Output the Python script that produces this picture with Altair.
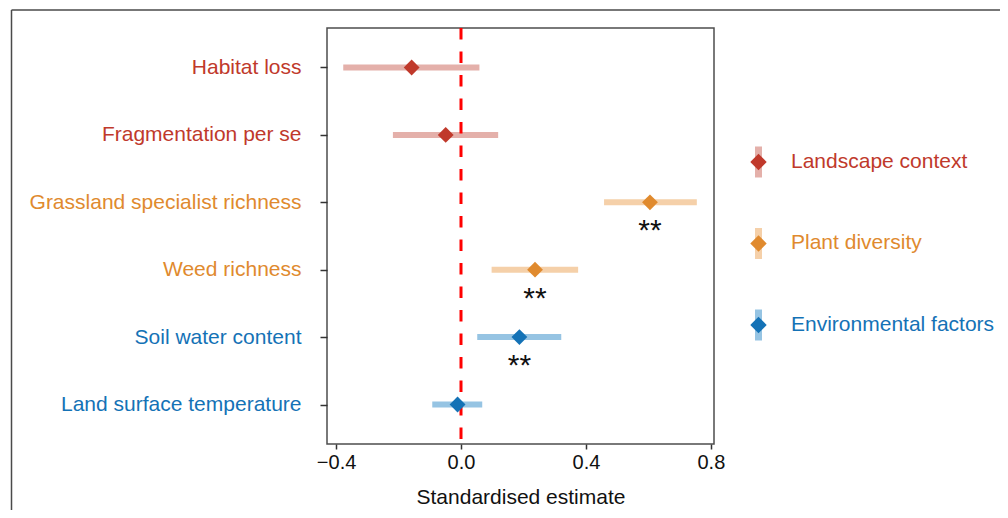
import altair as alt
import pandas as pd

labels = ["Habitat loss", "Fragmentation per se", "Grassland specialist richness",
          "Weed richness", "Soil water content", "Land surface temperature"]
groups = ["Landscape context", "Landscape context", "Plant diversity",
          "Plant diversity", "Environmental factors", "Environmental factors"]
estimate = [-0.158, -0.049, 0.605, 0.237, 0.187, -0.011]
lower = [-0.377, -0.218, 0.458, 0.098, 0.052, -0.092]
upper = [0.059, 0.119, 0.755, 0.375, 0.321, 0.068]
signif = ["", "", "**", "**", "**", ""]

group_order = ["Landscape context", "Plant diversity", "Environmental factors"]
dark_colors = ["#c0392b", "#e08a2e", "#1472b6"]
light_colors = ["#e4b0aa", "#f5d0a9", "#96c4e3"]

dark_map = dict(zip(group_order, dark_colors))
light_map = dict(zip(group_order, light_colors))

df = pd.DataFrame({
    "label": labels, "group": groups, "estimate": estimate,
    "lower": lower, "upper": upper, "signif": signif,
    "dark": [dark_map[g] for g in groups],
    "light": [light_map[g] for g in groups],
})
leg = pd.DataFrame({"group": group_order, "idx": list(range(len(group_order))),
                    "dark": dark_colors, "light": light_colors})

W, H = 387, 416

# label colour expression
def arr(lst):
    return "[" + ",".join("'" + s + "'" for s in lst) + "]"
lab_g1 = [l for l, g in zip(labels, groups) if g == group_order[0]]
lab_g2 = [l for l, g in zip(labels, groups) if g == group_order[1]]
color_expr = (f"indexof({arr(lab_g1)}, datum.value) >= 0 ? '{dark_colors[0]}' : "
              f"indexof({arr(lab_g2)}, datum.value) >= 0 ? '{dark_colors[1]}' : '{dark_colors[2]}'")

xscale = alt.Scale(domain=[-0.429, 0.81], nice=False, zero=False)
yenc = alt.Y("label:N", sort=labels,
             scale=alt.Scale(type="point", padding=0.586),
             axis=alt.Axis(title=None, labelFontSize=21, labelColor=alt.ExprRef(expr=color_expr),
                           tickSize=7, tickWidth=1.5, tickColor="#333333", labelPadding=19,
                           domain=False, labelLimit=500, grid=False))

base = alt.Chart(df)

bars = base.mark_rule(strokeWidth=6, strokeCap="butt").encode(
    x=alt.X("lower:Q", scale=xscale,
            axis=alt.Axis(values=[-0.4, 0.0, 0.4, 0.8], format=".1f",
                          title="Standardised estimate", labelFontSize=20,
                          titleFontSize=21, titleFontWeight="normal", tickSize=5,
                          tickWidth=1.5, tickColor="#333333", labelPadding=3,
                          titlePadding=14, domain=False, grid=False,
                          labelColor="#111111", titleColor="#111111")),
    x2="upper:Q",
    y=yenc,
    color=alt.Color("light:N", scale=None),
)

zero = alt.Chart(pd.DataFrame({"z": [0.0]})).mark_rule(
    color="#ff0000", strokeWidth=3, strokeDash=[11.5, 12]).encode(
    x=alt.X("z:Q", scale=xscale))

points = base.mark_point(shape="diamond", filled=True, size=250, opacity=1).encode(
    x=alt.X("estimate:Q", scale=xscale), y=yenc,
    color=alt.Color("dark:N", scale=None))

stars = base.mark_text(fontSize=30, dy=29, baseline="middle", color="#111111").encode(
    x=alt.X("estimate:Q", scale=xscale), y=yenc, text="signif:N")

main = alt.layer(bars, zero, points, stars)

# legend
ly = alt.Y("idx:Q", scale=alt.Scale(domain=[-1.644, 3.46], reverse=True, nice=False, zero=False),
           axis=None)
lbase = alt.Chart(leg)
leg_bar = lbase.mark_point(shape="M-0.226,-1L0.226,-1L0.226,1L-0.226,1Z", filled=True,
                           size=961, opacity=1).encode(
    x=alt.value(431.5), y=ly, color=alt.Color("light:N", scale=None))
leg_pt = lbase.mark_point(shape="diamond", filled=True, size=270, opacity=1).encode(
    x=alt.value(431.5), y=ly, color=alt.Color("dark:N", scale=None))
leg_txt = lbase.mark_text(align="left", baseline="middle", fontSize=21).encode(
    x=alt.value(464), y=ly, text="group:N", color=alt.Color("dark:N", scale=None))
legend = alt.layer(leg_bar, leg_pt, leg_txt)

# outer figure frame
frame_top = alt.Chart(pd.DataFrame({"a": [0]})).mark_rule(color="#4a4a4a", strokeWidth=1.5).encode(
    x=alt.value(-315.5), x2=alt.value(673), y=alt.value(-18))
frame_left = alt.Chart(pd.DataFrame({"a": [0]})).mark_rule(color="#4a4a4a", strokeWidth=1.5).encode(
    x=alt.value(-315.5), y=alt.value(-18), y2=alt.value(482))

chart = alt.layer(main, legend, frame_top, frame_left).resolve_scale(
    y="independent"
).properties(
    width=W, height=H,
    padding={"left": 10, "top": 9, "right": 0, "bottom": 0},
).configure(
    font="Liberation Sans"
).configure_view(
    stroke="#4d4d4d", strokeWidth=1.5
)

chart.save("out.html", embed_options={"renderer": "svg", "actions": False})
